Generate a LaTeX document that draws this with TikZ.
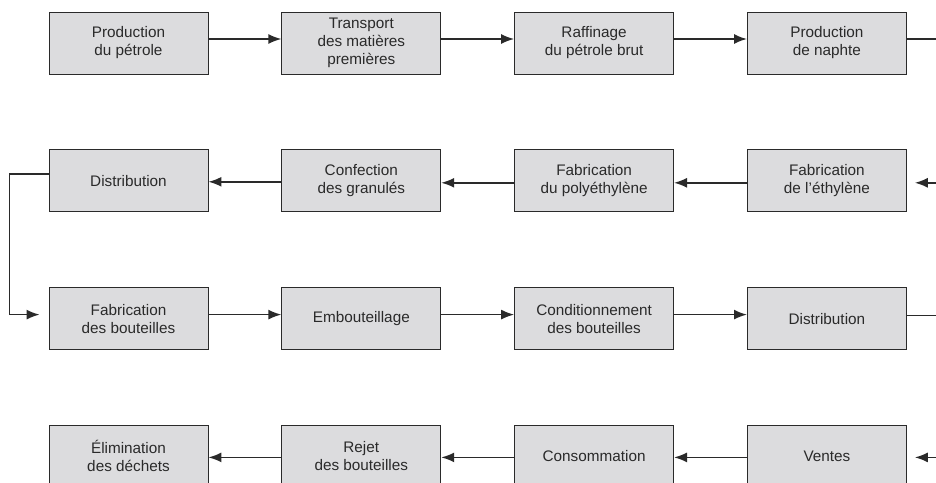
\documentclass[tikz,border=0pt]{standalone}
\usepackage{fontspec}
\setmainfont{Liberation Sans}
\usepackage{xcolor}
\usepackage{tikz}
\usetikzlibrary{arrows.meta,positioning,calc}
\definecolor{boxgray}{HTML}{DCDCDE}
\definecolor{inkgray}{HTML}{2A2A2A}

\begin{document}
\begin{tikzpicture}[
    node distance=75pt and 73pt,
    block/.style={rectangle, draw=inkgray, line width=0.8pt, fill=boxgray, minimum width=159pt, minimum height=62pt, align=center, text=inkgray, font=\fontsize{15.3}{18}\selectfont},
    line/.style={draw, line width=1.7pt, color=inkgray, -{Latex[length=13pt,width=10pt]}}
]
\useasboundingbox (0,0) rectangle (936pt,-482pt);
\clip (0,0) rectangle (936pt,-482pt);

% Nodes
\node [block] (petrole) at (128.5pt,-43pt) {Production\\du pétrole};
\node [block, right=of petrole] (transport) {Transport\\des matières\\premières};
\node [block, right=of transport] (raffinage) {Raffinage\\du pétrole brut};
\node [block, right=of raffinage] (naphte) {Production\\de naphte};

\node [block, below=of naphte] (ethylene) {Fabrication\\de l’éthylène};
\node [block, left=of ethylene] (polyeth) {Fabrication\\du polyéthylène};
\node [block, left=of polyeth] (granules) {Confection\\des granulés};
\node [block, left=of granules] (distrA) {Distribution};

\node [block, below=of distrA] (fabbout) {Fabrication\\des bouteilles};
\node [block, right=of fabbout] (embout) {Embouteillage};
\node [block, right=of embout] (condit) {Conditionnement\\des bouteilles};
\node [block, right=of condit] (distrB) {Distribution};

\node [block, below=of distrB] (ventes) {Ventes};
\node [block, left=of ventes] (conso) {Consommation};
\node [block, left=of conso] (rejet) {Rejet\\des bouteilles};
\node [block, left=of rejet] (elim) {Élimination\\des déchets};

% Connectors
\path [line] ([yshift=4pt]petrole.east) -- ([yshift=4pt]transport.west);
\path [line] ([yshift=4pt]transport.east) -- ([yshift=4pt]raffinage.west);
\path [line] ([yshift=4pt]raffinage.east) -- ([yshift=4pt]naphte.west);
\path [line] ([yshift=4pt]naphte.east) -- ++(50pt,0) |- ([xshift=8pt,yshift=-2pt]ethylene.east);

\path [line] ([yshift=-2pt]ethylene.west) -- ([yshift=-2pt]polyeth.east);
\path [line] ([yshift=-2pt]polyeth.west) -- ([yshift=-2pt]granules.east);
\path [line] ([yshift=-1pt]granules.west) -- ([yshift=-1pt]distrA.east);
\path [line] ([yshift=7pt]distrA.west) -- ++(-39pt,0) |- ([xshift=-9pt,yshift=4pt]fabbout.west);

\path [line] ([yshift=4pt]fabbout.east) -- ([yshift=4pt]embout.west);
\path [line] ([yshift=4pt]embout.east) -- ([yshift=4pt]condit.west);
\path [line] ([yshift=4pt]condit.east) -- ([yshift=4pt]distrB.west);
\path [line] ([yshift=3pt]distrB.east) -- ++(50pt,0) |- ([xshift=8pt,yshift=-1pt]ventes.east);

\path [line] ([yshift=-1pt]ventes.west) -- ([yshift=-1pt]conso.east);
\path [line] ([yshift=-1pt]conso.west) -- ([yshift=-1pt]rejet.east);
\path [line] ([yshift=-1pt]rejet.west) -- ([yshift=-1pt]elim.east);

\end{tikzpicture}
\end{document}
